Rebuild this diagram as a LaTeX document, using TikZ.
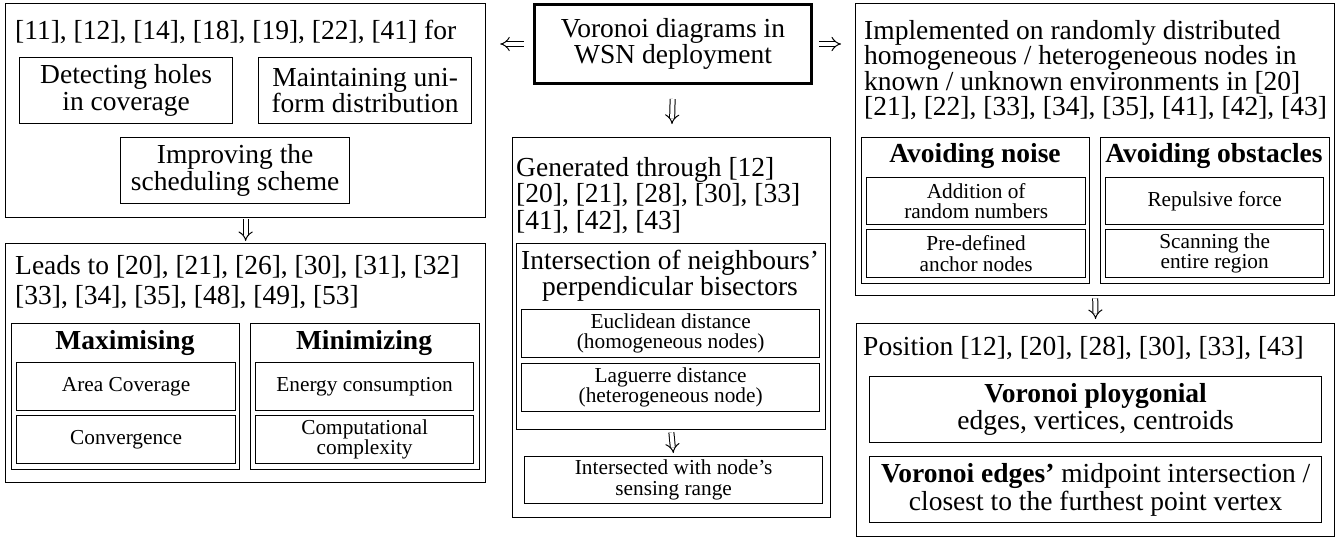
\documentclass[tikz,border=0pt]{standalone}
\usepackage{fontspec}
\setmainfont{Liberation Serif}
\usetikzlibrary{arrows.meta}
\tikzset{
  box/.style={draw, line width=1.3pt, inner sep=0pt, align=center, anchor=north west,
              font=\fontsize{27.5}{26.5}\selectfont},
  sbox/.style={box, font=\fontsize{21.3}{20.5}\selectfont},
  hdr/.style={inner sep=0pt, align=left, anchor=north west, font=\fontsize{27.5}{26.5}\selectfont},
  bhdr/.style={inner sep=0pt, anchor=center, font=\fontsize{27.5}{26.5}\selectfont\bfseries},
  dbl/.style={double, double distance=4pt, line width=1pt, -{Implies}},
}
\begin{document}
\begin{tikzpicture}[x=1pt,y=-1pt]
\useasboundingbox (0,0) rectangle (1343,538);

% ---------- left column ----------
\node[box, minimum width=480pt, minimum height=214pt] (L1) at (5,3) {};
\node[hdr] (L1h) at (15,20) {[11], [12], [14], [18], [19], [22], [41] for};
\node[box, minimum width=213pt, minimum height=66pt] (L1a) at (19,57) {Detecting holes\\in coverage};
\node[box, minimum width=213pt, minimum height=66pt] (L1b) at (258,57) {Maintaining uni-\\form distribution};
\node[box, minimum width=229pt, minimum height=66pt] (L1c) at (120,137) {Improving the\\scheduling scheme};

\node[box, minimum width=480pt, minimum height=239pt] (L2) at (5,243) {};
\node[hdr, font=\fontsize{27.5}{30}\selectfont] (L2h) at (15,255) {Leads to [20], [21], [26], [30], [31], [32]\\{}[33], [34], [35], [48], [49], [53]};
\node[box, minimum width=228pt, minimum height=146pt] (Max) at (11,323) {};
\node[bhdr] (Maxh) at (125,343) {Maximising};
\node[sbox, minimum width=219pt, minimum height=48pt] (Area) at (16,362) {Area Coverage};
\node[sbox, minimum width=219pt, minimum height=48pt] (Conv) at (16,415) {Convergence};
\node[box, minimum width=229pt, minimum height=146pt] (Min) at (250,323) {};
\node[bhdr] (Minh) at (364,343) {Minimizing};
\node[sbox, minimum width=218pt, minimum height=48pt] (Ener) at (255,362) {Energy consumption};
\node[sbox, minimum width=218pt, minimum height=48pt] (Comp) at (255,415) {Computational\\complexity};

% ---------- centre column ----------
\node[box, line width=3pt, minimum width=277pt, minimum height=79pt] (T) at (533,3) {Voronoi diagrams in\\WSN deployment};
\node[box, minimum width=318pt, minimum height=380pt] (G) at (512,137) {};
\node[hdr] (Gh) at (516,157) {Generated through [12]\\{}[20], [21], [28], [30], [33]\\{}[41], [42], [43]};
\node[box, minimum width=309pt, minimum height=186pt] (I) at (516,243) {};
\node[inner sep=0pt, align=center, anchor=north, font=\fontsize{27.5}{26}\selectfont] (Ih) at (670,250) {Intersection of neighbours'\\perpendicular bisectors};
\node[sbox, minimum width=298pt, minimum height=48pt] (Eu) at (521,309) {Euclidean distance\\(homogeneous nodes)};
\node[sbox, minimum width=298pt, minimum height=48pt] (La) at (521,363) {Laguerre distance\\(heterogeneous node)};
\node[sbox, minimum width=298pt, minimum height=47pt] (S) at (524,456) {Intersected with node's\\sensing range};

% ---------- right column ----------
\node[box, minimum width=479pt, minimum height=292pt] (R1) at (855,3) {};
\node[hdr, font=\fontsize{27.5}{25.5}\selectfont] (R1h) at (864,20) {Implemented on randomly distributed\\homogeneous / heterogeneous nodes in\\known / unknown environments in [20]\\{}[21], [22], [33], [34], [35], [41], [42], [43]};
\node[box, minimum width=228pt, minimum height=146pt] (N) at (861,137) {};
\node[bhdr] (Nh) at (975,156) {Avoiding noise};
\node[sbox, minimum width=219pt, minimum height=47pt] (Add) at (866,177) {Addition of\\random numbers};
\node[sbox, minimum width=219pt, minimum height=48pt] (Pre) at (866,229) {Pre-defined\\anchor nodes};
\node[box, minimum width=229pt, minimum height=146pt] (O) at (1100,137) {};
\node[bhdr] (Oh) at (1214,156) {Avoiding obstacles};
\node[sbox, minimum width=218pt, minimum height=47pt] (Rep) at (1105,177) {Repulsive force};
\node[sbox, minimum width=218pt, minimum height=48pt] (Scan) at (1105,229) {Scanning the\\entire region};

\node[box, minimum width=478pt, minimum height=213pt] (R2) at (856,323) {};
\node[hdr] (R2h) at (863,336) {Position [12], [20], [28], [30], [33], [43]};
\node[box, font=\fontsize{27.5}{27.5}\selectfont, minimum width=452pt, minimum height=66pt] (VP) at (869,376) {\textbf{Voronoi ploygonial}\\edges, vertices, centroids};
\node[box, font=\fontsize{27.5}{27.5}\selectfont, minimum width=452pt, minimum height=66pt] (VE) at (869,456) {\textbf{Voronoi edges'} midpoint intersection /\\closest to the furthest point vertex};

% ---------- connectors ----------
\draw[dbl, shorten <=9pt, shorten >=14pt] (T.west) -- (T.west -| L1.east);
\draw[dbl, shorten <=6pt, shorten >=14pt] (T.east) -- (T.east -| R1.west);
\draw[dbl, shorten <=14pt, shorten >=13pt] (T.south) -- (G.north);
\draw[dbl, shorten <=1pt, shorten >=2pt] (L1.south) -- (L2.north);
\draw[dbl, shorten <=2pt, shorten >=3pt] (I.south) -- (S.north);
\draw[dbl, shorten <=2pt, shorten >=4pt] (R1.south) -- (R2.north);
\end{tikzpicture}
\end{document}
